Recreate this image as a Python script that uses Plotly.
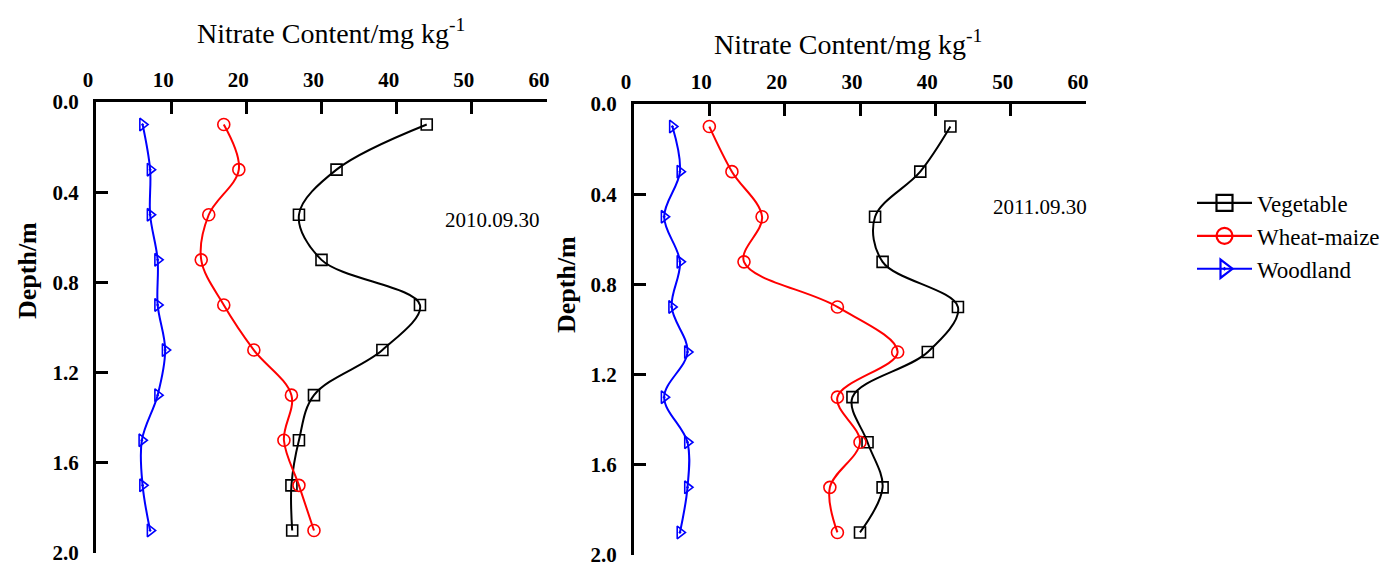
import plotly.graph_objects as go

depth = [0.1, 0.3, 0.5, 0.7, 0.9, 1.1, 1.3, 1.5, 1.7, 1.9]

veg_2010 = [44.0, 32.0, 27.0, 30.0, 43.1, 38.1, 29.0, 27.0, 26.0, 26.1]
wheat_2010 = [17.0, 19.0, 15.0, 14.0, 17.0, 21.0, 26.0, 25.0, 27.0, 29.0]
wood_2010 = [6.2, 7.2, 7.2, 8.2, 8.2, 9.2, 8.2, 6.1, 6.2, 7.2]

veg_2011 = [42.0, 38.0, 32.0, 33.0, 43.0, 39.0, 29.0, 31.0, 33.0, 30.0]
wheat_2011 = [10.0, 13.0, 17.0, 14.6, 27.0, 35.0, 27.0, 30.0, 26.0, 27.0]
wood_2011 = [5.1, 6.1, 4.0, 6.1, 5.0, 7.1, 4.0, 7.1, 7.1, 6.1]

series_names = ["Vegetable", "Wheat-maize", "Woodland"]
colors = ["#000000", "#FF0000", "#0000FF"]
symbols = ["square-open", "circle-open", "triangle-right-open-dot"]
marker_sizes = [11, 12, 11]

dates = ["2010.09.30", "2011.09.30"]
x_title = "Nitrate Content/mg kg<sup>-1</sup>"
y_title = "Depth/m"

W, H = 1390, 570
FONT = "Liberation Serif, Times New Roman, serif"

def px(x):
    return x / W

def py(y):
    return 1 - y / H

fig = go.Figure()

panels = [
    ((veg_2010, wheat_2010, wood_2010), "x", "y"),
    ((veg_2011, wheat_2011, wood_2011), "x2", "y2"),
]

for vals3, xa, ya in panels:
    for i, vals in enumerate(vals3):
        fig.add_trace(go.Scatter(
            x=vals, y=depth, xaxis=xa, yaxis=ya,
            mode="lines+markers",
            name=series_names[i],
            legendgroup=series_names[i],
            showlegend=False,
            line=dict(color=colors[i], width=2, shape="spline", smoothing=1.0),
            marker=dict(symbol=symbols[i], size=marker_sizes[i], color=colors[i],
                        line=dict(color=colors[i], width=1.6)),
        ))

# legend-only entries (bigger markers, as in the reference legend)
for i in range(3):
    fig.add_trace(go.Scatter(
        x=[None], y=[None], xaxis="x", yaxis="y",
        mode="lines+markers", name=series_names[i],
        legendgroup=series_names[i], showlegend=True,
        line=dict(color=colors[i], width=2.2),
        marker=dict(symbol=symbols[i], size=16, color=colors[i],
                    line=dict(color=colors[i], width=2.2)),
    ))

xaxis_common = dict(
    range=[0, 60], dtick=10, tick0=0, side="top",
    showline=True, linewidth=3, linecolor="black",
    ticks="inside", ticklen=12, tickwidth=3, tickcolor="black",
    showgrid=False, zeroline=False, mirror=False, automargin=False,
    tickfont=dict(family=FONT, size=21, color="black", weight="bold"),
    ticklabelshift=-8, ticklabelstandoff=4,
)
yaxis_common = dict(
    range=[2.0, 0.0], tickvals=[0, 0.4, 0.8, 1.2, 1.6, 2.0], tickformat=".1f",
    showline=True, linewidth=3, linecolor="black",
    ticks="inside", ticklen=12, tickwidth=3, tickcolor="black",
    showgrid=False, zeroline=False, mirror=False, automargin=False,
    tickfont=dict(family=FONT, size=21, color="black", weight="bold"),
    ticklabelstandoff=10,
)

fig.update_layout(
    width=W, height=H,
    margin=dict(l=0, r=0, t=0, b=0, autoexpand=False),
    paper_bgcolor="white", plot_bgcolor="white",
    xaxis=dict(domain=[px(96), px(547)], anchor="y", **xaxis_common),
    yaxis=dict(domain=[py(553), py(102)], anchor="x", **yaxis_common),
    xaxis2=dict(domain=[px(634), px(1086)], anchor="y2", **xaxis_common),
    yaxis2=dict(domain=[py(555), py(104)], anchor="x2", **yaxis_common),
    legend=dict(
        x=px(1192), y=py(236), xanchor="left", yanchor="middle",
        font=dict(family=FONT, size=23, color="black"),
        itemwidth=55, bgcolor="rgba(0,0,0,0)", tracegroupgap=0,
    ),
    showlegend=True,
)

annotations = [
    dict(text=x_title, x=px(331), y=py(32), xref="paper", yref="paper",
         xanchor="center", yanchor="middle",
         showarrow=False, font=dict(family=FONT, size=28, color="black")),
    dict(text=x_title, x=px(848), y=py(42), xref="paper", yref="paper",
         xanchor="center", yanchor="middle",
         showarrow=False, font=dict(family=FONT, size=28, color="black")),
    dict(text=y_title, x=px(28), y=py(270), xref="paper", yref="paper",
         xanchor="center", yanchor="middle",
         showarrow=False, textangle=-90,
         font=dict(family=FONT, size=26, color="black", weight="bold")),
    dict(text=y_title, x=px(566), y=py(285), xref="paper", yref="paper",
         xanchor="center", yanchor="middle",
         showarrow=False, textangle=-90,
         font=dict(family=FONT, size=26, color="black", weight="bold")),
    dict(text=dates[0], x=px(492), y=py(220), xref="paper", yref="paper",
         xanchor="center", yanchor="middle",
         showarrow=False, font=dict(family=FONT, size=21, color="black")),
    dict(text=dates[1], x=px(1040), y=py(207), xref="paper", yref="paper",
         xanchor="center", yanchor="middle",
         showarrow=False, font=dict(family=FONT, size=21, color="black")),
]
fig.update_layout(annotations=annotations)

fig.write_html("out.html")
